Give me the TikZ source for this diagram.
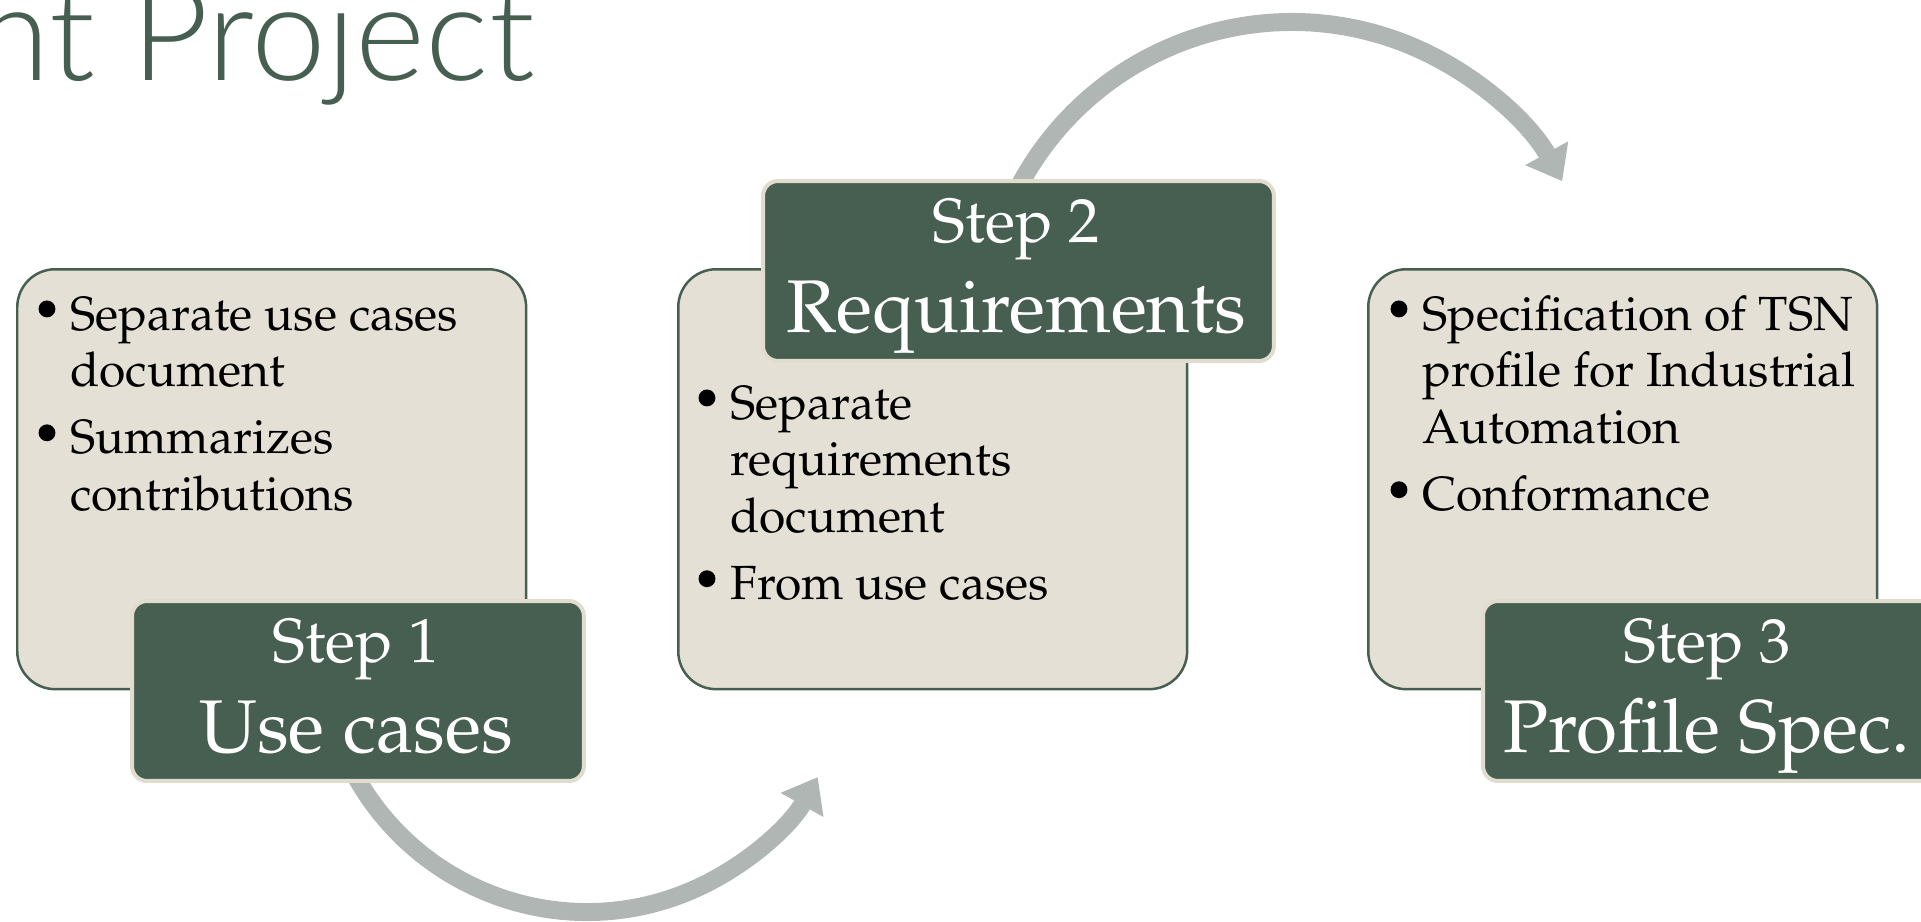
\documentclass[tikz,border=0pt]{standalone}
\usepackage[T1]{fontenc}
\usepackage{fontspec}
\IfFontExistsTF{Lato Light}{\newfontfamily\titlefont{Lato Light}}{\newfontfamily\titlefont{Lato}}
\IfFileExists{t1qpl.fd}{\newcommand\pal{\fontencoding{T1}\fontfamily{qpl}\selectfont}}{%
  \IfFileExists{t1ppl.fd}{\newcommand\pal{\fontencoding{T1}\fontfamily{ppl}\selectfont}}{%
    \IfFontExistsTF{texgyrepagella-regular.otf}{\newfontfamily\pal{texgyrepagella-regular.otf}}{%
      \newfontfamily\pal{Liberation Serif}}}}
\usetikzlibrary{arrows.meta}
\definecolor{dkgreen}{HTML}{465F50}
\definecolor{beige}{HTML}{E4E0D5}
\definecolor{beigeline}{HTML}{E2DCCF}
\definecolor{arrowgray}{HTML}{B0B6B3}
\newcommand\bul{\leavevmode\llap{\tikz[baseline=0pt]\fill[black] (0,12pt) circle (4.8pt);\hspace{8.5pt}}}
\newcommand\bodytxt[2]{\parbox[t]{#1}{\raggedright\pal\fontsize{27.3pt}{32.4pt}\selectfont #2}}
\begin{document}
\begin{tikzpicture}[x=0.02cm,y=0.02cm,
  bigbox/.style={draw=dkgreen, fill=beige, line width=1.42pt, rounded corners=21.6pt,
    inner sep=0pt, minimum width=289.65pt, minimum height=239pt, anchor=north west},
  stepbox/.style={draw=beigeline, fill=dkgreen, line width=2.28pt, rounded corners=8.5pt,
    inner sep=0pt, minimum height=102.43pt, anchor=north west},
  steptop/.style={text=white, inner sep=0pt, anchor=base, font=\pal\fontsize{35.5pt}{40pt}\selectfont},
  stepname/.style={text=white, inner sep=0pt, anchor=base, font=\pal\fontsize{42.5pt}{48pt}\selectfont},
  bodytext/.style={inner sep=0pt, anchor=base west, text=black},
  flowarrow/.style={draw=arrowgray, line width=10.24pt, -{Triangle[length=18.2pt, width=26.75pt]}}]
\useasboundingbox (0,0) rectangle (1921,-921);
\clip (0,0) rectangle (1921,-921);

% title
\node[anchor=base east, text=dkgreen, inner sep=0pt,
  font=\titlefont\fontsize{76.3pt}{84pt}\selectfont] (title) at (535,-80) {nt Project};

% arrows (under the step boxes)
\coordinate (a1s) at (346.8,-759);
\coordinate (a2s) at (1012,-200.4);
\draw[flowarrow] (a1s) arc[start angle=205, end angle=330.6, radius=150.8pt];
\draw[flowarrow] (a2s) arc[start angle=155, end angle=29, radius=175.84pt];

% content boxes
\node[bigbox] (b1) at (16,-268) {};
\node[bigbox] (b2) at (677,-268) {};
\node[bigbox] (b3) at (1367,-268) {};

\node[bodytext] (t1) at (70,-330) {\bodytxt{261.8pt}{\bul Separate use cases\\document\\[5.7pt]\bul Summarizes\\contributions}};
\node[bodytext] (t2) at (730,-419) {\bodytxt{250.4pt}{\bul Separate\\requirements\\document\\[5.7pt]\bul From use cases}};
\node[bodytext] (t3) at (1422,-330) {\bodytxt{267.5pt}{\bul Specification of TSN\\profile for Industrial\\Automation\\[5.7pt]\bul Conformance}};

% step boxes
\node[stepbox, minimum width=257.2pt] (s1) at (130,-599) {};
\node[stepbox, minimum width=290.8pt] (s2) at (761,-179) {};
\node[stepbox, minimum width=257.2pt] (s3) at (1481,-599) {};

\node[steptop] (s1a) at (356,-662) {Step 1};
\node[stepname] (s1b) at (356,-752) {Use cases};
\node[steptop] (s2a) at (1016.5,-242) {Step 2};
\node[stepname] (s2b) at (1016.5,-332) {Requirements};
\node[steptop] (s3a) at (1707,-662) {Step 3};
\node[stepname] (s3b) at (1707,-752) {Profile Spec.};
\end{tikzpicture}
\end{document}
